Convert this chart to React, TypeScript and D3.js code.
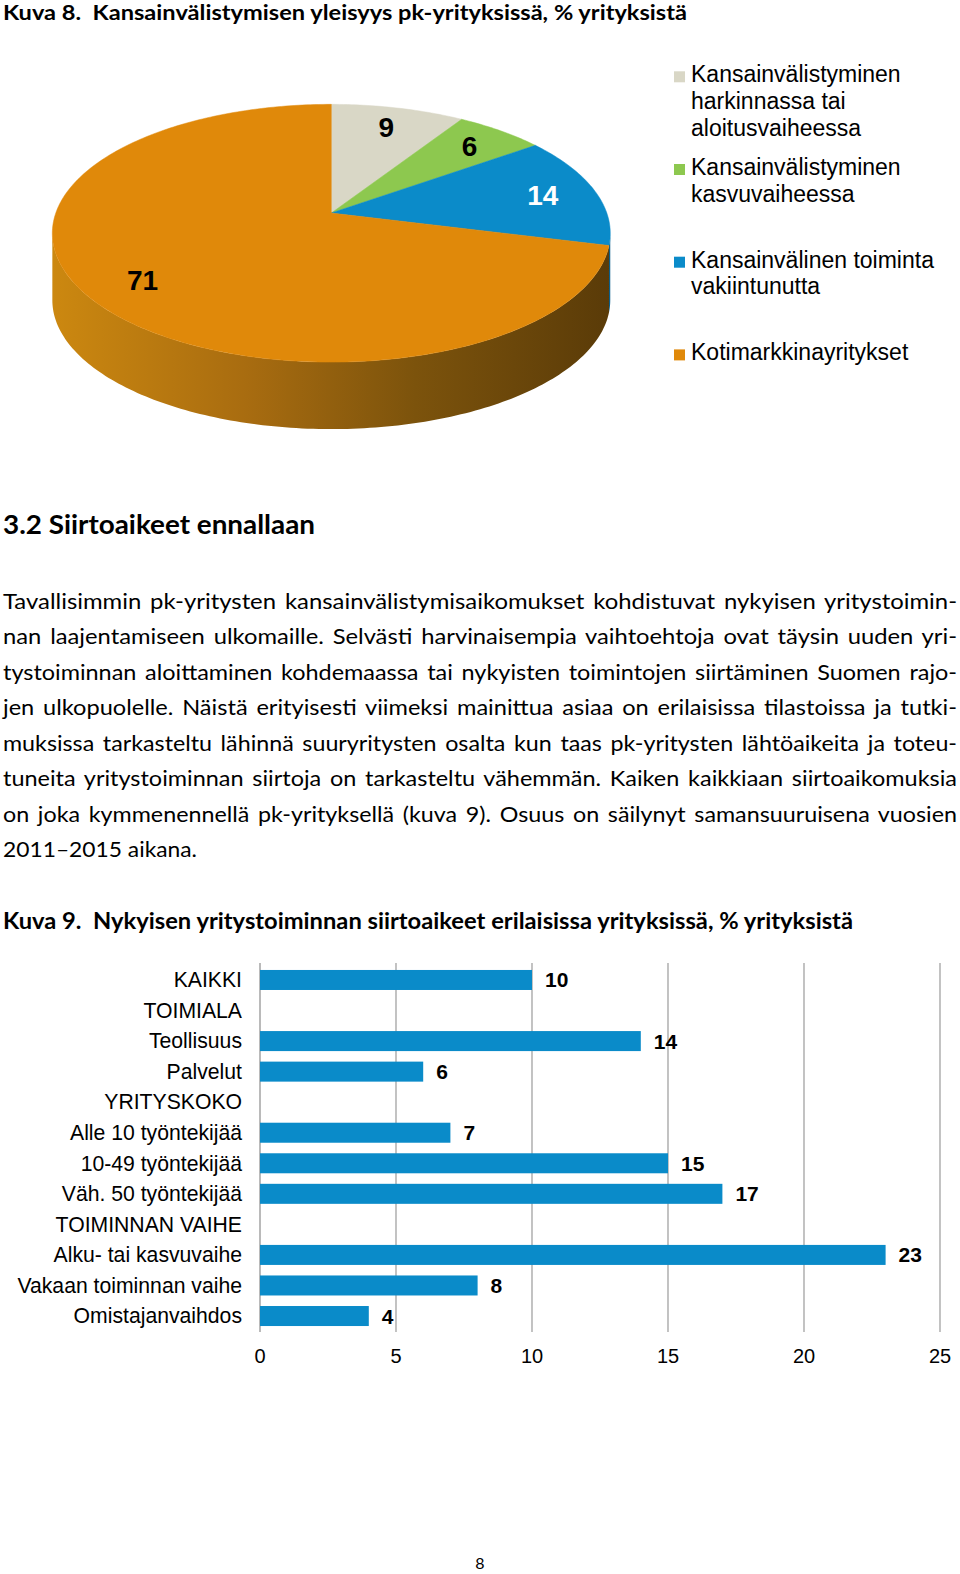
import React, { useLayoutEffect, useRef } from "react";
import * as d3 from "d3";

// ---------- Data ----------
const pieValues = [9, 6, 14, 71];
const pieNames = [
  "Kansainvälistyminen harkinnassa tai aloitusvaiheessa",
  "Kansainvälistyminen kasvuvaiheessa",
  "Kansainvälinen toiminta vakiintunutta",
  "Kotimarkkinayritykset",
];
const legendLines = [
  ["Kansainvälistyminen", "harkinnassa tai", "aloitusvaiheessa"],
  ["Kansainvälistyminen", "kasvuvaiheessa"],
  ["Kansainvälinen toiminta", "vakiintunutta"],
  ["Kotimarkkinayritykset"],
];
const pieColors = ["#d9d7c6", "#8dc84f", "#0b8bc9", "#e0890a"];
const pieSideColors = ["#8f8d80", "#5a8a2c", "#0a5f8a", "#9a6210"];

const barCategories = [
  "KAIKKI",
  "TOIMIALA",
  "Teollisuus",
  "Palvelut",
  "YRITYSKOKO",
  "Alle 10 työntekijää",
  "10-49 työntekijää",
  "Väh. 50 työntekijää",
  "TOIMINNAN VAIHE",
  "Alku- tai kasvuvaihe",
  "Vakaan toiminnan vaihe",
  "Omistajanvaihdos",
];
const barValues: (number | null)[] = [10, null, 14, 6, null, 7, 15, 17, null, 23, 8, 4];
const xTicks = [0, 5, 10, 15, 20, 25];

const title1 = "Kuva 8.  Kansainvälistymisen yleisyys pk-yrityksissä, % yrityksistä";
const heading = "3.2 Siirtoaikeet ennallaan";
const paragraphLines = [
  "Tavallisimmin pk-yritysten kansainvälistymisaikomukset kohdistuvat nykyisen yritystoimin-",
  "nan laajentamiseen ulkomaille. Selvästi harvinaisempia vaihtoehtoja ovat täysin uuden yri-",
  "tystoiminnan aloittaminen kohdemaassa tai nykyisten toimintojen siirtäminen Suomen rajo-",
  "jen ulkopuolelle. Näistä erityisesti viimeksi mainittua asiaa on erilaisissa tilastoissa ja tutki-",
  "muksissa tarkasteltu lähinnä suuryritysten osalta kun taas pk-yritysten lähtöaikeita ja toteu-",
  "tuneita yritystoiminnan siirtoja on tarkasteltu vähemmän. Kaiken kaikkiaan siirtoaikomuksia",
  "on joka kymmenennellä pk-yrityksellä (kuva 9). Osuus on säilynyt samansuuruisena vuosien",
  "2011–2015 aikana.",
];
const title2 = "Kuva 9.  Nykyisen yritystoiminnan siirtoaikeet erilaisissa yrityksissä, % yrityksistä";
const pageNumber = "8";

// ---------- Layout ----------
const W = 960;
const H = 1574;
const DOC_FONT = "Lato, 'Open Sans', sans-serif";
const CHART_FONT = "'Liberation Sans', Arial, sans-serif";

// 3D pie geometry (perspective projection of a disc)
const PCX = 331.3;
const PCY = 213;
const PA = 275.5;
const PB = 125.7;
const PK = 0.157;
const DEPTH = 67;

function proj(theta: number, r = 1, dy = 0): [number, number] {
  const u = Math.sin(theta) * r;
  const v = -Math.cos(theta) * r;
  const w = 1 - PK * v;
  return [PCX + (PA * u) / w, PCY + (PB * v) / w + dy];
}

function arcPoints(a0: number, a1: number, dy = 0): [number, number][] {
  const n = Math.max(2, Math.ceil(((a1 - a0) * 180) / Math.PI));
  const pts: [number, number][] = [];
  for (let i = 0; i <= n; i++) pts.push(proj(a0 + ((a1 - a0) * i) / n, 1, dy));
  return pts;
}

export default function App() {
  const ref = useRef<SVGSVGElement>(null);

  useLayoutEffect(() => {
    const svg = ref.current;
    if (!svg) return;
    svg.querySelectorAll("text[data-justify]").forEach((node) => {
      const t = node as SVGTextElement;
      const target = +(t.getAttribute("data-justify") || 0);
      t.style.wordSpacing = "2.5px";
      t.setAttribute("textLength", String(target));
      t.setAttribute("lengthAdjust", "spacingAndGlyphs");
    });
  }, []);

  // Pie
  const arcs = d3
    .pie<number>()
    .sort(null)
    .value((d) => d)
    .startAngle(0)
    .endAngle(2 * Math.PI)(pieValues);

  const visL = Math.acos(-PK);
  const visR = 2 * Math.PI - visL;

  const line = d3.line();

  const sides = arcs
    .map((a, i) => {
      const s0 = Math.max(a.startAngle, visL);
      const s1 = Math.min(a.endAngle, visR);
      if (s1 <= s0) return null;
      const top = arcPoints(s0, s1, 0);
      const bot = arcPoints(s0, s1, DEPTH).reverse();
      return { i, d: line([...top, ...bot]) + "Z" };
    })
    .filter(Boolean) as { i: number; d: string }[];

  const tops = arcs.map((a, i) => {
    const pts = [proj(0, 0), ...arcPoints(a.startAngle, a.endAngle, 0)];
    return { i, d: line(pts) + "Z" };
  });

  const pieLabelPos = arcs.map((a) => proj((a.startAngle + a.endAngle) / 2, 0.8));

  // Bars
  const x = d3.scaleLinear().domain([0, 25]).range([260, 940]);
  const y = d3
    .scaleBand<string>()
    .domain(barCategories)
    .range([964.7, 1331.3])
    .paddingInner(0.345)
    .paddingOuter(0.1725);

  const legendX = 674;
  const legendTop = 74.3;
  const legendStep = 92.7;
  const legendLH = 26.8;

  return (
    <svg
      ref={ref}
      width={W}
      height={H}
      viewBox={`0 0 ${W} ${H}`}
      style={{ position: "absolute", left: 0, top: 0, background: "#fff" }}
    >
      <defs>
        <linearGradient id="sideGrad" gradientUnits="userSpaceOnUse" x1={52} x2={611} y1={0} y2={0}>
          <stop offset="0" stopColor="#cc8810" />
          <stop offset="0.35" stopColor="#a86c10" />
          <stop offset="0.65" stopColor="#7c530c" />
          <stop offset="1" stopColor="#5a3b08" />
        </linearGradient>
      </defs>

      {/* Title 1 */}
      <text
        x={3}
        y={19.5}
        fontFamily={DOC_FONT}
        fontWeight={700}
        fontSize={21.5}
        textLength={684}
        lengthAdjust="spacingAndGlyphs"
        style={{ whiteSpace: "pre" }}
      >
        {title1}
      </text>

      {/* Pie sides */}
      {sides.map((s) => (
        <path
          key={"side" + s.i}
          d={s.d}
          fill={pieNames[s.i] === "Kotimarkkinayritykset" ? "url(#sideGrad)" : pieSideColors[s.i]}
        />
      ))}
      {/* Pie tops */}
      {tops.map((t) => (
        <path key={"top" + t.i} d={t.d} fill={pieColors[t.i]} stroke={pieColors[t.i]} strokeWidth={0.5} />
      ))}
      {pieLabelPos.map((p, i) => (
        <text
          key={"pl" + i}
          x={p[0]}
          y={p[1]}
          dy="0.36em"
          textAnchor="middle"
          fontFamily={CHART_FONT}
          fontWeight={700}
          fontSize={28}
          fill={i === 2 ? "#ffffff" : "#000000"}
        >
          {pieValues[i]}
        </text>
      ))}

      {/* Legend */}
      {legendLines.map((lines, i) => {
        const cy = legendTop + i * legendStep;
        return (
          <g key={"lg" + i}>
            <rect x={legendX} y={cy - 3} width={11} height={11} fill={pieColors[i]} />
            {lines.map((l, j) => (
              <text
                key={j}
                x={691}
                y={cy + j * legendLH + 7.8}
                fontFamily={CHART_FONT}
                fontSize={23}
                fill="#000"
              >
                {l}
              </text>
            ))}
          </g>
        );
      })}

      {/* Heading */}
      <text
        x={3}
        y={534}
        fontFamily={DOC_FONT}
        fontWeight={700}
        fontSize={26}
        textLength={312}
        lengthAdjust="spacingAndGlyphs"
      >
        {heading}
      </text>

      {/* Paragraph */}
      {paragraphLines.map((l, i) => {
        const last = i === paragraphLines.length - 1;
        return (
          <text
            key={"p" + i}
            x={3}
            y={608.5 + i * 35.55}
            fontFamily={DOC_FONT}
            fontSize={21.5}
            fill="#000"
            {...(last
              ? { textLength: 194, lengthAdjust: "spacingAndGlyphs" }
              : { "data-justify": 954 })}
          >
            {l}
          </text>
        );
      })}

      {/* Title 2 */}
      <text
        x={3}
        y={929}
        fontFamily={DOC_FONT}
        fontWeight={700}
        fontSize={22}
        textLength={850}
        lengthAdjust="spacingAndGlyphs"
        style={{ whiteSpace: "pre" }}
      >
        {title2}
      </text>

      {/* Bar chart gridlines */}
      {xTicks.map((t) => (
        <line
          key={"g" + t}
          x1={x(t)}
          x2={x(t)}
          y1={963}
          y2={1332}
          stroke={t === 0 ? "#8c8c8c" : "#9a9a9a"}
          strokeWidth={1.2}
        />
      ))}
      {/* Bars */}
      {barCategories.map((c, i) => {
        const v = barValues[i];
        const yy = y(c)!;
        const bw = y.bandwidth();
        return (
          <g key={"b" + i}>
            <text
              x={242}
              y={yy + bw / 2 + 7.3}
              textAnchor="end"
              fontFamily={CHART_FONT}
              fontSize={21.2}
              fill="#000"
            >
              {c}
            </text>
            {v !== null && (
              <>
                <rect x={x(0)} y={yy} width={x(v) - x(0)} height={bw} fill="#0a8bc9" />
                <text
                  x={x(v) + 13}
                  y={yy + bw / 2 + 7.5}
                  fontFamily={CHART_FONT}
                  fontWeight={700}
                  fontSize={21}
                  fill="#000"
                >
                  {v}
                </text>
              </>
            )}
          </g>
        );
      })}
      {/* X tick labels */}
      {xTicks.map((t) => (
        <text
          key={"t" + t}
          x={x(t)}
          y={1363}
          textAnchor="middle"
          fontFamily={CHART_FONT}
          fontSize={20}
          fill="#000"
        >
          {t}
        </text>
      ))}

      {/* Page number */}
      <text x={480} y={1569} textAnchor="middle" fontFamily={DOC_FONT} fontSize={16} fill="#000">
        {pageNumber}
      </text>
    </svg>
  );
}
